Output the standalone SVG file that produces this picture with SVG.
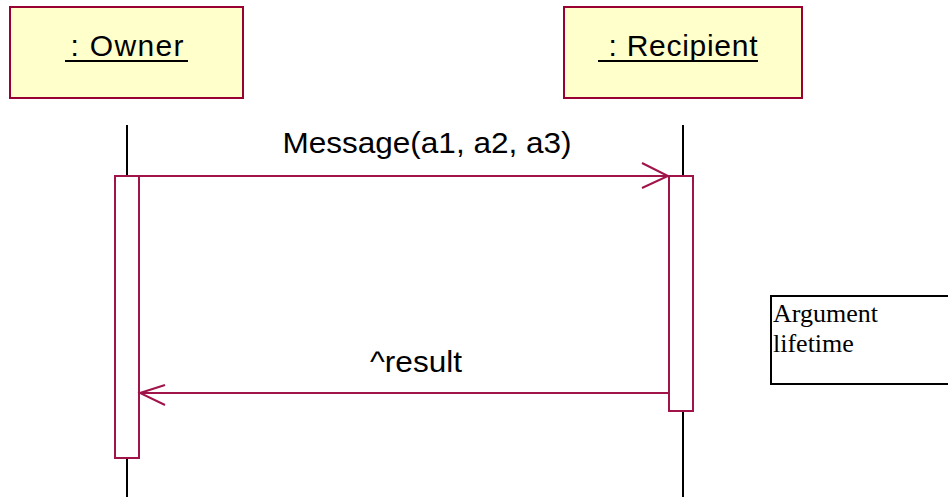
<svg xmlns="http://www.w3.org/2000/svg" width="948" height="497" viewBox="0 0 948 497">
<style>
.obj{fill:#FFFFCC;stroke:#990033;stroke-width:2}
.lbl{font-family:"Liberation Sans",Arial,sans-serif;font-size:30px;fill:#000}
.ul{stroke:#000;stroke-width:2}
.life{stroke:#000;stroke-width:2}
.act{fill:#fff;stroke:#A0144A;stroke-width:2}
.msg{stroke:#A0144A;stroke-width:2;fill:none}
.note{fill:#fff;stroke:#000;stroke-width:2}
.ntxt{font-family:"Liberation Serif","Times New Roman",serif;font-size:26px;fill:#000}
</style>
<g id="owner">
<rect class="obj" x="10" y="7" width="233" height="91"/>
<text class="lbl" x="127" y="56" text-anchor="middle" textLength="113" lengthAdjust="spacing">: Owner</text>
<line class="ul" x1="65" y1="61" x2="188" y2="61"/>
<line class="life" x1="127" y1="125" x2="127" y2="176"/>
<line class="life" x1="127" y1="458" x2="127" y2="497"/>
<rect class="act" x="115" y="176" width="24" height="282"/>
</g>
<g id="recipient">
<rect class="obj" x="564" y="7" width="238" height="91"/>
<text class="lbl" x="683" y="56" text-anchor="middle" textLength="149" lengthAdjust="spacing">: Recipient</text>
<line class="ul" x1="598" y1="61" x2="758" y2="61"/>
<line class="life" x1="683" y1="125" x2="683" y2="176"/>
<line class="life" x1="683" y1="411" x2="683" y2="497"/>
<rect class="act" x="669" y="176" width="24" height="235"/>
</g>
<g id="note">
<rect class="note" x="771" y="296" width="190" height="88"/>
<text class="ntxt" x="773" y="322">Argument</text>
<text class="ntxt" x="773" y="352">lifetime</text>
</g>
<g id="connectors">
<line class="msg" x1="139" y1="176" x2="669" y2="176"/>
<polyline class="msg" points="642,163 668,176 642,188"/>
<text class="lbl" x="427" y="153" text-anchor="middle" textLength="289" lengthAdjust="spacingAndGlyphs">Message(a1, a2, a3)</text>
<line class="msg" x1="669" y1="393" x2="139" y2="393"/>
<polyline class="msg" points="165,385 140,393 165,405"/>
<text class="lbl" x="416" y="372" text-anchor="middle" textLength="92" lengthAdjust="spacingAndGlyphs">^result</text>
</g>
</svg>
